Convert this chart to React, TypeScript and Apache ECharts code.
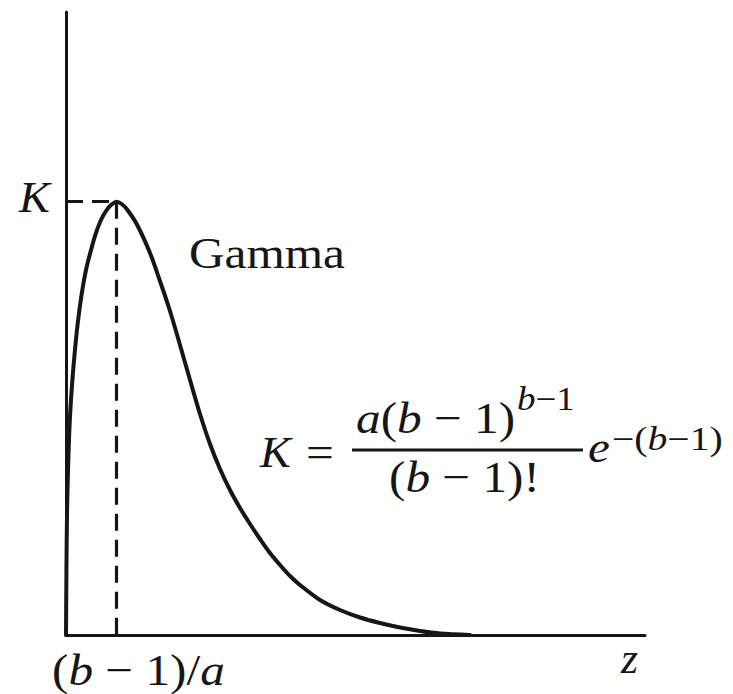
import React, { useEffect, useRef } from "react";
import * as echarts from "echarts";

// Gamma density curve (z in 0..100 of axis length, density in 0..100 of axis height)
const zValues = [
  0, 0.05, 0.12, 0.22, 0.4, 0.66, 1.04, 1.47, 1.99, 2.68, 3.45, 4.32, 5.18, 6.04, 6.91, 7.77, 8.76,
  9.62, 10.48, 12.21, 14.51, 16.23, 17.96, 19.69, 21.42, 23.14, 24.87, 26.6, 28.32, 30.05, 31.78,
  33.51, 35.23, 36.96, 38.69, 40.41, 43.87, 47.32, 50.78, 54.23, 57.69, 61.14, 64.59, 69.78,
];
const densityValues = [
  0, 7.22, 15.25, 21.67, 28.09, 34.51, 40.13, 44.94, 49.76, 54.57, 58.59, 61.8, 64.53, 66.61, 68.06, 69.02, 69.55,
  69.18, 68.38, 65.97, 61.32, 56.82, 52.01, 46.55, 40.93, 35.47, 30.66, 26.65, 23.27, 20.39, 17.82,
  15.41, 13.16, 11.24, 9.47, 8.03, 5.62, 4.01, 2.81, 1.93, 1.2, 0.64, 0.24, 0,
];
const peakZ = 8.76;
const peakK = 69.55;
const axisMax = [100, 100];

const FONT = '"Liberation Serif", "Times New Roman", serif';
const INK = "#161616";
const SX = 1.12;

function styleSet(size: number) {
  return {
    i: { fontFamily: FONT, fontSize: size, fontStyle: "italic", fill: INK },
    r: { fontFamily: FONT, fontSize: size, fill: INK },
  };
}

function txt(left: number, baseline: number, size: number, text: string, scaleX = SX) {
  return {
    type: "text",
    x: left,
    y: baseline - size * 0.34,
    scaleX,
    silent: true,
    style: {
      text,
      rich: styleSet(size),
      fontFamily: FONT,
      fontSize: size,
      fill: INK,
      align: "left",
      verticalAlign: "middle",
    },
  };
}

export default function App() {
  const ref = useRef<HTMLDivElement>(null);
  useEffect(() => {
    if (!ref.current) return;
    const chart = echarts.init(ref.current, null, { renderer: "svg" });
    const data = zValues.map((z, i) => [z, densityValues[i]]);
    chart.setOption({
      animation: false,
      backgroundColor: "#ffffff",
      grid: { left: 66, right: 88, top: 12, bottom: 59, containLabel: false },
      xAxis: {
        type: "value",
        min: 0,
        max: axisMax[0],
        axisLine: { show: true, onZero: false, lineStyle: { color: INK, width: 3 } },
        axisTick: { show: false },
        axisLabel: { show: false },
        splitLine: { show: false },
      },
      yAxis: {
        type: "value",
        min: 0,
        max: axisMax[1],
        axisLine: { show: true, onZero: false, lineStyle: { color: INK, width: 3 } },
        axisTick: { show: false },
        axisLabel: { show: false },
        splitLine: { show: false },
      },
      series: [
        {
          type: "line",
          data,
          smooth: 0.3,
          symbol: "none",
          lineStyle: { color: INK, width: 4, cap: "round", join: "round" },
          markLine: {
            silent: true,
            symbol: ["none", "none"],
            label: { show: false },
            lineStyle: { color: INK, width: 3.2, type: [17, 9] },
            data: [
              [{ coord: [0, peakK] }, { coord: [peakZ, peakK] }],
              [{ coord: [peakZ, peakK] }, { coord: [peakZ, 0] }],
            ],
          },
        },
      ],
      graphic: [
        txt(19, 212, 44, "{i|K}", 1.05),
        txt(189, 268, 44, "{r|Gamma}"),
        txt(260, 467, 44, "{i|K}", 1.05),
        txt(306, 467, 44, "{r|=}"),
        {
          type: "line",
          silent: true,
          shape: { x1: 352, y1: 450, x2: 583, y2: 450 },
          style: { stroke: INK, lineWidth: 3 },
        },
        txt(356, 433, 44, "{i|a}{r|(}{i|b}{r| − 1)}"),
        txt(517, 410, 33, "{i|b}{r|−1}"),
        txt(389, 492, 44, "{r|(}{i|b}{r| − 1)!}"),
        txt(588, 462, 44, "{i|e}"),
        txt(612, 450, 33, "{r|−(}{i|b}{r|−1)}", 1.2),
        txt(52, 685, 44, "{r|(}{i|b}{r| − 1)/}{i|a}"),
        txt(621, 673, 44, "{i|z}", 1.0),
      ],
    });
    return () => chart.dispose();
  }, []);
  return (
    <div
      ref={ref}
      style={{ position: "absolute", left: 0, top: 0, width: 733, height: 694, background: "#fff" }}
    />
  );
}
